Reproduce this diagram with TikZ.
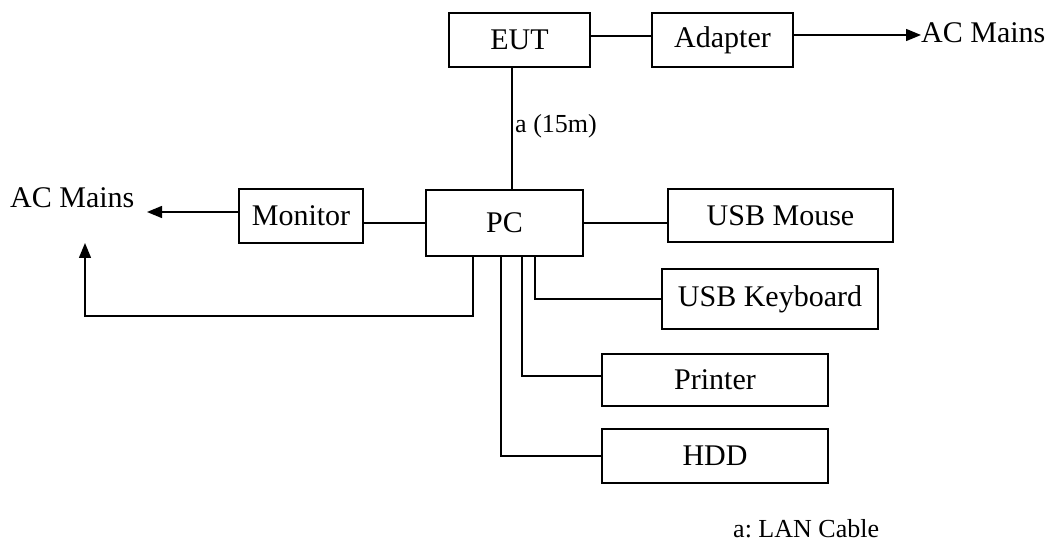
\documentclass[tikz,border=0pt]{standalone}
\usepackage{fontspec}
\setmainfont{Liberation Serif}
\usetikzlibrary{arrows.meta}
\frenchspacing
\begin{document}
\begin{tikzpicture}[x=1pt,y=-1pt,
  unit/.style={draw, line width=1.4pt, inner sep=0pt, font=\fontsize{30}{36}\selectfont},
  plain/.style={inner sep=0pt, font=\fontsize{30}{36}\selectfont},
  note/.style={inner sep=0pt, font=\fontsize{26}{31}\selectfont},
  wire/.style={line width=1.4pt},
  feed/.style={line width=1.4pt, -{Triangle[length=15pt,width=12pt]}}]
\useasboundingbox (0,0) rectangle (1054,545);

% equipment boxes
\node[unit, minimum width=141pt, minimum height=54pt] (eut) at (519.5,40) {EUT};
\node[unit, minimum width=141pt, minimum height=54pt] (adapter) at (722.5,40) {Adapter};
\node[unit, minimum width=157pt, minimum height=66pt, text depth=-3pt] (pc) at (504.5,223) {PC};
\node[unit, minimum width=124pt, minimum height=54pt] (monitor) at (301,216) {Monitor};
\node[unit, minimum width=225pt, minimum height=53pt] (mouse) at (780.5,215.5) {USB Mouse};
\node[unit, minimum width=216pt, minimum height=60pt] (keyboard) at (770,299) {USB Keyboard};
\node[unit, minimum width=226pt, minimum height=52pt] (printer) at (715,380) {Printer};
\node[unit, minimum width=226pt, minimum height=54pt] (hdd) at (715,456) {HDD};

% mains outlets and notes
\node[plain, anchor=base west] (mainsR) at (921,43) {AC Mains};
\node[plain, anchor=base west] (mainsL) at (10,208) {AC Mains};
\node[note, anchor=base west] (cablelbl) at (515,133) {a (15m)};
\node[note, anchor=base west] (legend) at (733,537) {a: LAN Cable};

\coordinate (tipL) at (147,212);
\coordinate (tipUp) at (85,243);
\coordinate (corner) at (85,316);

% connections
\draw[wire] ([yshift=4pt]eut.east) -- ([yshift=4pt]adapter.west);
\draw[feed] ([yshift=5pt]adapter.east) -- ([yshift=5pt]adapter.east -| mainsR.west);
\draw[wire] ([xshift=-7.5pt]eut.south) -- ([xshift=-7.5pt]eut.south |- pc.north);
\draw[wire] (pc.west) -- (pc.west -| monitor.east);
\draw[feed] ([yshift=4pt]monitor.west) -- (tipL);
\draw[wire] (pc.east) -- (pc.east -| mouse.west);
\draw[feed] ([xshift=-31.5pt]pc.south) |- (corner) -- (tipUp);
\draw[wire] ([xshift=30.5pt]pc.south) |- (keyboard.west);
\draw[wire] ([xshift=17.5pt]pc.south) |- ([yshift=4pt]printer.west);
\draw[wire] ([xshift=-3.5pt]pc.south) |- (hdd.west);
\end{tikzpicture}
\end{document}
